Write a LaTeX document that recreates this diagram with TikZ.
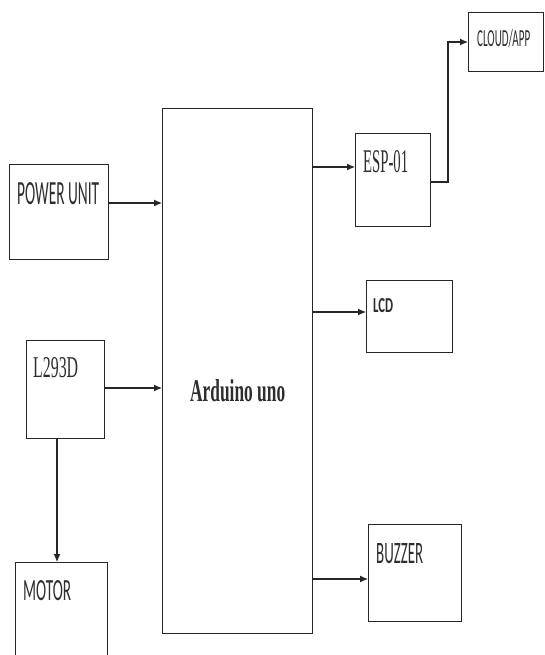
\documentclass[tikz,border=0pt]{standalone}
\usepackage{fontspec}
\usepackage{graphicx}
\setmainfont{Liberation Serif}
\newfontfamily\calib{Carlito}
\usetikzlibrary{arrows.meta}
\tikzset{
  blk/.style={draw=black!85, line width=1.1pt, rectangle, inner sep=0pt, anchor=north west},
  txt/.style={inner sep=0pt, anchor=base west, text=black!82},
  arr/.style={draw=black!85, line width=1.1pt, -{Latex[length=8pt,width=7pt]}},
}
\newcommand{\fitt}[3]{\resizebox{#1pt}{#2pt}{#3}}
\begin{document}
\begin{tikzpicture}[x=1pt,y=-1pt]
\clip (0,0) rectangle (544,655);
\fill[white] (0,0) rectangle (544,655);
% boxes
\node[blk, minimum width=99pt, minimum height=95pt] (pwr) at (9,164) {};
\node[blk, minimum width=78pt, minimum height=98pt] (drv) at (26,340) {};
\node[blk, minimum width=92pt, minimum height=120pt] (mot) at (15,562) {};
\node[blk, minimum width=150pt, minimum height=525pt] (ard) at (162,108) {};
\node[blk, minimum width=75pt, minimum height=93pt] (esp) at (355,133) {};
\node[blk, minimum width=75pt, minimum height=59pt] (cld) at (468,12) {};
\node[blk, minimum width=86pt, minimum height=72pt] (lcd) at (366,280) {};
\node[blk, minimum width=93pt, minimum height=97pt] (buz) at (368,524) {};
% texts
\node[txt] (tpwr) at (17,204) {\fitt{82}{22}{\calib POWER UNIT}};
\node[txt] (tdrv) at (33,377) {\fitt{45}{20}{L293D}};
\node[txt] (tmot) at (23,600) {\fitt{48}{20}{\calib MOTOR}};
\node[txt] (tard) at (190,401) {\fitt{95}{22}{\bfseries Arduino uno}};
\node[txt] (tesp) at (363,172) {\fitt{45}{22}{ESP-01}};
\node[txt] (tcld) at (477,47) {\fitt{53}{17}{\calib CLOUD/APP}};
\node[txt] (tlcd) at (373,312) {\fitt{20}{14}{\calib\bfseries LCD}};
\node[txt] (tbuz) at (376,563) {\fitt{47}{20}{\calib BUZZER}};
% helper coordinates
\coordinate (ya) at (0,203);
\coordinate (yb) at (0,388);
\coordinate (xm) at (57,0);
\coordinate (yc) at (0,167);
\coordinate (yd) at (0,312);
\coordinate (ye) at (0,579);
\coordinate (yf) at (0,182);
\coordinate (bend) at (448,42);
% connectors
\draw[arr] (pwr.east |- ya) -- (ard.west |- ya);
\draw[arr] (drv.east |- yb) -- (ard.west |- yb);
\draw[arr] (drv.south -| xm) -- (mot.north -| xm);
\draw[arr] (ard.east |- yc) -- (esp.west |- yc);
\draw[arr] (ard.east |- yd) -- (lcd.west |- yd);
\draw[arr] (ard.east |- ye) -- (buz.west |- ye);
\draw[arr] (esp.east |- yf) -| (bend) -- (cld.west |- bend);
\end{tikzpicture}
\end{document}
